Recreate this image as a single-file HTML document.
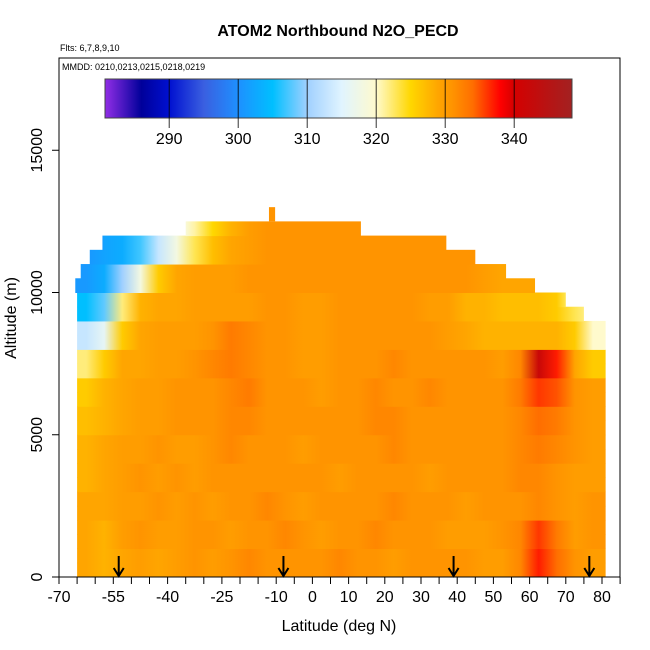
<!DOCTYPE html>
<html><head><meta charset="utf-8"><style>
body{margin:0;background:#fff}
svg{display:block;font-family:"Liberation Sans",sans-serif}
</style></head><body>
<svg id="chart" width="650" height="650" viewBox="0 0 650 650">
<defs id="defs"></defs>
<text x="338" y="36" text-anchor="middle" font-size="16" font-weight="bold">ATOM2 Northbound N2O_PECD</text>
<text x="60" y="51" font-size="9">Flts: 6,7,8,9,10</text>
<text x="62" y="70" font-size="9">MMDD: 0210,0213,0215,0218,0219</text>
<g id="cells"></g>
<g id="arrows"></g>
<g id="cbar"></g>
<rect x="59" y="58" width="561" height="519" fill="none" stroke="#000" stroke-width="1"/>
<g id="xaxis"></g>
<g id="yaxis"></g>
<text x="339" y="631" text-anchor="middle" font-size="16">Latitude (deg N)</text>
<text transform="translate(16,318) rotate(-90)" text-anchor="middle" font-size="16">Altitude (m)</text>
</svg>
<script>
const latCols=[-65,-60,-55,-50,-45,-40,-35,-30,-25,-20,-15,-10,-5,0,5,10,15,20,25,30,35,40,45,50,55,60,65,70,75];
const vals=[
[329,328,329,330,329,330,331,330,331,332,331,331,331,331,332,331,331,330,331,331,331,331,330,330,332,337,334,331,330],
[329,328,330,331,330,330,331,331,330,331,331,332,331,330,331,331,332,331,331,331,330,330,330,331,332,336,333,330,331],
[329,329,330,330,331,330,331,330,331,331,332,331,330,331,331,331,331,332,331,331,331,330,331,331,331,332,331,330,331],
[328,329,330,331,330,331,330,331,331,331,331,331,331,331,330,331,331,331,331,330,331,331,331,331,332,332,331,330,330],
[328,329,330,330,331,330,330,331,332,331,331,331,330,331,331,331,331,332,331,331,331,331,331,331,332,333,332,331,330],
[327,328,329,330,330,331,331,331,332,332,331,331,331,331,331,331,332,332,331,331,331,331,331,331,332,334,333,331,330],
[326,328,329,330,330,331,331,331,332,333,331,331,331,330,331,331,332,331,331,332,331,331,331,331,333,336,335,331,330],
[322,326,329,329,330,330,331,332,333,332,331,331,330,330,331,331,331,332,331,331,331,331,331,330,332,342,337,329,326],
[313,316,326,329,330,330,330,331,333,332,331,331,330,330,331,331,331,331,331,331,330,329,328,328,328,328,328,326,320],
[305,308,322,328,329,329,330,330,330,330,331,331,330,330,331,331,331,331,331,330,330,328,328,327,327,327,326,323,322],
[301,303,310,318,326,329,330,330,330,331,331,331,331,331,331,331,331,331,331,331,331,331,330,329,329,329,329,329,329],
[301,302,303,307,313,318,323,327,329,330,331,331,331,331,331,331,331,331,331,331,331,331,331,331,331,331,331,331,331],
[320,320,320,320,320,319,321,325,328,330,331,331,331,331,331,331,331,331,331,331,331,331,331,331,331,331,331,331,331]];
// per 500 m row: southern and northern latitude extents
const rowLeft=[-65,-65,-65,-65,-65,-65,-65,-65,-65,-65,-65,-65,-65,-65,-65,-65,-65,-65,-65,-65,-65.5,-64,-61.5,-58,-35];
const rowRight=[81,81,81,81,81,81,81,81,81,81,81,81,81,81,81,81,81,81,75,70,61.5,53.5,45,37,13.4];
const arrowLats=[-53.5,-8,39,76.5];
const xTicks=[-70,-55,-40,-25,-10,0,10,20,30,40,50,60,70,80];
const yTicks=[0,5000,10000,15000];
const cbTicks=[290,300,310,320,330,340];
const cStops=[[281,[138,43,226]],[286,[0,0,154]],[290,[0,16,208]],[295,[58,95,224]],[300,[30,144,255]],[305,[0,191,255]],[310,[160,208,255]],[315,[224,244,255]],[320,[255,250,205]],[325,[255,215,0]],[329,[255,165,0]],[331,[255,148,0]],[334,[255,110,0]],[338,[255,0,0]],[340,[212,0,0]],[348,[165,32,32]]];
const NS='http://www.w3.org/2000/svg';
const xs=lat=>59+(lat+70)*3.62;
const ys=alt=>577-alt*0.02845;
const cx=v=>105+(v-280.7)*6.9;
function col(v){
 if(v<=cStops[0][0])return 'rgb('+cStops[0][1]+')';
 for(let i=1;i<cStops.length;i++){if(v<=cStops[i][0]){const a=cStops[i-1],b=cStops[i],t=(v-a[0])/(b[0]-a[0]);return 'rgb('+a[1].map((c,k)=>Math.round(c+(b[1][k]-c)*t)).join(',')+')';}}
 return 'rgb('+cStops[cStops.length-1][1]+')';
}
function mk(tag,attrs,parent){const e=document.createElementNS(NS,tag);for(const k in attrs)e.setAttribute(k,attrs[k]);parent.appendChild(e);return e;}
const defs=document.getElementById('defs'),cells=document.getElementById('cells');
for(let r=0;r<rowLeft.length;r++){
 const m=vals[Math.floor(r/2)];
 const x0=xs(rowLeft[r]),x1=xs(rowRight[r]);
 const g=mk('linearGradient',{id:'g'+r,gradientUnits:'userSpaceOnUse',x1:x0,x2:x1,y1:0,y2:0},defs);
 latCols.forEach((lat,i)=>{const c=lat+2.5;let off=(xs(c)-x0)/(x1-x0);off=Math.max(0,Math.min(1,off));mk('stop',{offset:off,'stop-color':col(m[i])},g);});
 const rc=mk('rect',{x:x0,y:ys((r+1)*500),width:x1-x0,height:ys(r*500)-ys((r+1)*500)+0.5,fill:'url(#g'+r+')'},cells);
 
 
}
const sp=mk('rect',{x:xs(-12),y:ys(13000),width:xs(-10.3)-xs(-12),height:ys(12500)-ys(13000),fill:col(331)},cells);


const ar=document.getElementById('arrows');
arrowLats.forEach(l=>{const x=xs(l);
 const p=mk('path',{d:`M${x},556 L${x},575 M${x-5},568 L${x},576 L${x+5},568`,stroke:'#000','stroke-width':2,fill:'none'},ar);
 
 });
const xa=document.getElementById('xaxis');
mk('line',{x1:xs(-70),x2:xs(85),y1:577,y2:577,stroke:'#000'},xa);
for(let l=-70;l<=85;l+=5)mk('line',{x1:xs(l),x2:xs(l),y1:577,y2:584,stroke:'#000'},xa);
xTicks.forEach(l=>{const t=mk('text',{x:xs(l),y:602,'text-anchor':'middle','font-size':16},xa);t.textContent=l;
 
 });
const ya=document.getElementById('yaxis');
mk('line',{x1:59,x2:59,y1:ys(0),y2:ys(15000),stroke:'#000'},ya);
yTicks.forEach(a=>{mk('line',{x1:52,x2:59,y1:ys(a),y2:ys(a),stroke:'#000'},ya);
 const t=mk('text',{transform:`translate(42,${ys(a)}) rotate(-90)`,'text-anchor':'middle','font-size':16},ya);t.textContent=a;
 
 });
const cb=document.getElementById('cbar');
const cg=mk('linearGradient',{id:'cbg',gradientUnits:'userSpaceOnUse',x1:105,x2:572,y1:0,y2:0},defs);
cStops.forEach(s=>mk('stop',{offset:Math.max(0,Math.min(1,(cx(s[0])-105)/467)),'stop-color':col(s[0])},cg));
mk('rect',{x:105,y:79,width:467,height:39,fill:'url(#cbg)',stroke:'#444'},cb);
cbTicks.forEach(v=>{mk('line',{x1:cx(v),x2:cx(v),y1:79,y2:128,stroke:'#000','stroke-width':0.8},cb);
 const t=mk('text',{x:cx(v),y:144,'text-anchor':'middle','font-size':16},cb);t.textContent=v;
 
 });
</script>
</body></html>
